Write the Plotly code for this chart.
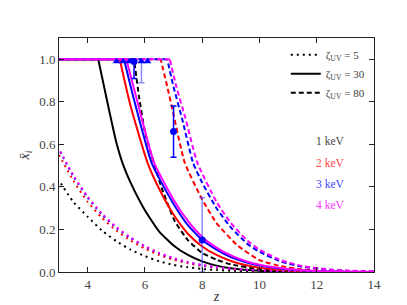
import plotly.graph_objects as go

# ---------------- data ----------------
# zeta_UV = 30 (solid): first point is the end of the fully ionised plateau
z_s1 = [4.37, 4.75, 5.0, 5.25, 5.5, 6.0, 6.5, 7.0, 7.5, 8.0, 8.5, 9.0, 10.0, 11.0, 12.0, 14.0]
y_s1 = [1.0, 0.76, 0.61, 0.5, 0.42, 0.29, 0.19, 0.125, 0.08, 0.05, 0.03, 0.018, 0.006, 0.002, 0.0005, 0.0]
z_s2 = [5.12, 5.5, 6.09, 6.5, 7.0, 7.5, 8.0, 8.5, 9.0, 9.5, 10.0, 11.0, 12.0, 13.0, 14.0]
y_s2 = [1.0, 0.78, 0.514, 0.39, 0.27, 0.18, 0.12, 0.08, 0.052, 0.033, 0.02, 0.007, 0.002, 0.0005, 0.0]
z_s3 = [5.27, 5.6, 6.23, 6.5, 7.0, 7.5, 8.0, 8.5, 9.0, 9.5, 10.0, 11.0, 12.0, 13.0, 14.0]
y_s3 = [1.0, 0.82, 0.514, 0.44, 0.32, 0.22, 0.15, 0.105, 0.07, 0.047, 0.03, 0.012, 0.004, 0.001, 0.0003]
z_s4 = [5.35, 5.7, 6.32, 7.0, 7.5, 8.0, 8.5, 9.0, 9.5, 10.0, 11.0, 12.0, 13.0, 14.0]
y_s4 = [1.0, 0.82, 0.514, 0.34, 0.24, 0.165, 0.115, 0.078, 0.052, 0.034, 0.014, 0.005, 0.0015, 0.0004]

# zeta_UV = 80 (dashed)
z_d1 = [5.62, 5.8, 6.0, 6.34, 6.6, 7.04, 7.5, 8.0, 8.5, 9.0, 10.0, 11.0, 12.0, 14.0]
y_d1 = [1.0, 0.82, 0.66, 0.5, 0.39, 0.24, 0.15, 0.09, 0.058, 0.036, 0.013, 0.004, 0.001, 0.0]
z_d2 = [6.55, 6.8, 7.0, 7.39, 7.97, 8.5, 9.25, 10.0, 10.76, 11.5, 12.0, 13.0, 14.0]
y_d2 = [1.0, 0.86, 0.74, 0.514, 0.349, 0.23, 0.123, 0.056, 0.027, 0.012, 0.007, 0.002, 0.0006]
z_d3 = [6.78, 7.0, 7.3, 7.68, 8.0, 8.5, 9.0, 9.6, 10.0, 10.76, 11.45, 12.5, 13.0, 14.0]
y_d3 = [1.0, 0.87, 0.72, 0.514, 0.42, 0.3, 0.21, 0.13, 0.095, 0.048, 0.026, 0.01, 0.006, 0.002]
z_d4 = [6.87, 7.1, 7.4, 7.83, 8.5, 9.0, 9.6, 10.0, 10.76, 11.5, 12.5, 13.0, 14.0]
y_d4 = [1.0, 0.87, 0.73, 0.514, 0.33, 0.23, 0.145, 0.105, 0.055, 0.028, 0.011, 0.007, 0.0025]

# zeta_UV = 5 (dotted)
z_p = [3.0, 3.5, 4.0, 4.5, 5.0, 5.5, 6.0, 6.5, 7.0, 7.5, 8.0, 8.5, 9.0, 10.0, 11.0, 12.0, 14.0]
y_p1 = [0.43, 0.33, 0.26, 0.195, 0.145, 0.105, 0.075, 0.05, 0.033, 0.022, 0.014, 0.009, 0.006, 0.0025, 0.001, 0.0004, 0.0]
y_p2 = [0.55, 0.43, 0.33, 0.255, 0.195, 0.148, 0.11, 0.08, 0.058, 0.041, 0.029, 0.02, 0.013, 0.006, 0.0025, 0.001, 0.0001]
y_p3 = [0.575, 0.45, 0.35, 0.27, 0.208, 0.16, 0.12, 0.088, 0.064, 0.046, 0.032, 0.022, 0.015, 0.007, 0.003, 0.0012, 0.0002]
y_p4 = [0.58, 0.455, 0.355, 0.275, 0.212, 0.163, 0.122, 0.09, 0.066, 0.047, 0.033, 0.023, 0.016, 0.0075, 0.0032, 0.0013, 0.0002]

# observational constraints
lim_z = [5.01, 5.24, 5.45, 5.88, 6.09]
lim_y = [0.99, 0.99, 0.99, 0.99, 0.99]
dark_z = [5.62, 7.0]
dark_y = [0.99, 0.66]
dark_up = [0.0, 0.12]
dark_dn = [0.08, 0.12]
light_z = [5.88, 8.0]
light_y = [0.99, 0.15]
light_up = [0.0, 0.2]
light_dn = [0.10, 0.15]

z_min = 3.0
mass_labels = ["1 keV", "2 keV", "3 keV", "4 keV"]
mass_label_y = [0.617, 0.514, 0.414, 0.316]
colors = ["#000000", "#ff0000", "#0000ff", "#ff00ff"]
label_colors = ["#444444", "#ff4444", "#4444ff", "#ff33ff"]
legend_labels = ["ζ<sub>UV</sub> = 5", "ζ<sub>UV</sub> = 30", "ζ<sub>UV</sub> = 80"]

FONT = "Liberation Serif"
DOT = "2px,4px"
DASH = "5px,3px"

fig = go.Figure()

solid = [(z_s1, y_s1), (z_s2, y_s2), (z_s3, y_s3), (z_s4, y_s4)]
dashed = [(z_d1, y_d1), (z_d2, y_d2), (z_d3, y_d3), (z_d4, y_d4)]
dotted = [y_p1, y_p2, y_p3, y_p4]


def add_curve(zs, ys, c, dash):
    # plateau x_i = 1 below the end of reionisation, then the decaying tail
    fig.add_trace(go.Scatter(x=[zs[0], z_min], y=[ys[0], ys[0]], mode="lines",
                             line=dict(color=c, width=2, dash=dash),
                             showlegend=False, hoverinfo="skip"))
    fig.add_trace(go.Scatter(x=zs[::-1], y=ys[::-1], mode="lines",
                             line=dict(color=c, width=2, dash=dash, shape="spline", smoothing=0.5),
                             showlegend=False, hoverinfo="skip"))


for i, c in enumerate(colors):
    fig.add_trace(go.Scatter(x=z_p[::-1], y=dotted[i][::-1], mode="lines",
                             line=dict(color=c, width=2, dash=DOT, shape="spline", smoothing=0.6),
                             showlegend=False, hoverinfo="skip"))
    add_curve(*solid[i], c, "solid")
    add_curve(*dashed[i], c, DASH)

# data points
fig.add_trace(go.Scatter(x=light_z, y=light_y, mode="markers",
                         marker=dict(color="rgba(0,0,255,0.55)", size=1),
                         error_y=dict(type="data", array=light_up, arrayminus=light_dn,
                                      color="rgba(60,60,255,0.6)", thickness=1.5, width=3),
                         showlegend=False, hoverinfo="skip"))
fig.add_trace(go.Scatter(x=dark_z, y=dark_y, mode="markers",
                         marker=dict(color="#0000ff", size=7, symbol="circle"),
                         error_y=dict(type="data", array=dark_up, arrayminus=dark_dn,
                                      color="#0000ff", thickness=1.5, width=3),
                         showlegend=False, hoverinfo="skip"))
fig.add_trace(go.Scatter(x=[light_z[1]], y=[light_y[1]], mode="markers",
                         marker=dict(color="#0000ff", size=7, symbol="circle"),
                         showlegend=False, hoverinfo="skip"))
fig.add_trace(go.Scatter(x=lim_z, y=lim_y, mode="markers",
                         marker=dict(color="#0000ff", size=7, symbol="triangle-up"),
                         showlegend=False, hoverinfo="skip"))

# legend entries
for lab, d in zip(legend_labels, [DOT, "solid", DASH]):
    fig.add_trace(go.Scatter(x=[None], y=[None], mode="lines", name=lab,
                             line=dict(color="black", width=2, dash=d)))

for lab, yy, c in zip(mass_labels, mass_label_y, label_colors):
    fig.add_annotation(x=12.45, y=yy, xref="x", yref="y", text=lab, showarrow=False,
                       font=dict(family=FONT, size=11.5, color=c))

axis_common = dict(showline=True, linecolor="#222", linewidth=1, mirror="allticks",
                   ticks="inside", ticklen=5, tickcolor="#222", showgrid=False, zeroline=False,
                   tickfont=dict(family=FONT, size=13, color="#444"))

fig.update_xaxes(range=[3, 14], tickvals=[4, 6, 8, 10, 12, 14], **axis_common,
                 title=dict(text="<i>z</i>", font=dict(family=FONT, size=14, color="#333"), standoff=0))
fig.update_yaxes(range=[0, 1.1], tickvals=[0, 0.2, 0.4, 0.6, 0.8, 1.0], tickformat=".1f", **axis_common,
                 title=dict(text="<i>x̄</i><sub><i>i</i></sub>", font=dict(family=FONT, size=14, color="#333"),
                            standoff=6))

fig.update_layout(
    width=407, height=305,
    margin=dict(l=51, r=41, t=30, b=31),
    paper_bgcolor="white", plot_bgcolor="white",
    font=dict(family=FONT, color="#333"),
    legend=dict(x=0.72, y=0.99, xanchor="left", yanchor="top", bgcolor="rgba(0,0,0,0)",
                font=dict(family=FONT, size=11, color="#444"), tracegroupgap=0, itemwidth=30),
)

fig.write_html("out.html")
